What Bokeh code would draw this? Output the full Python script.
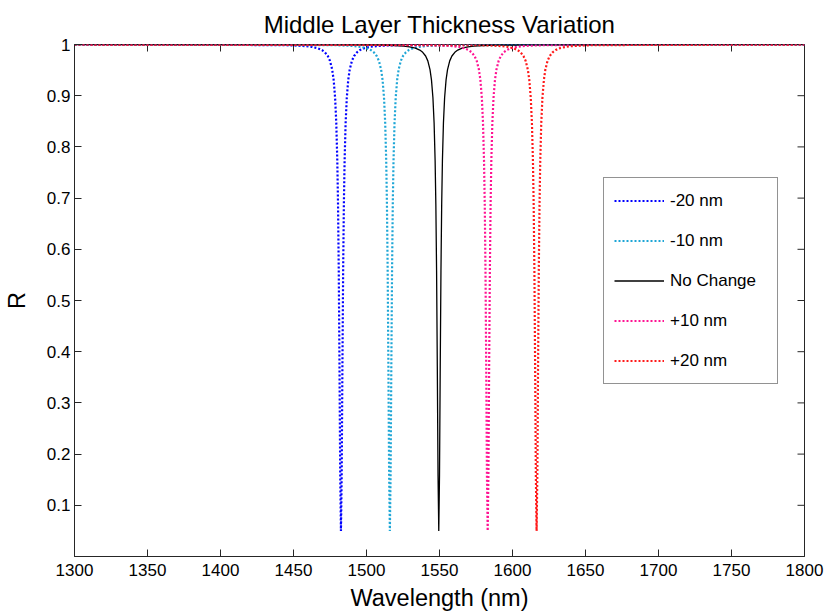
import math
from bokeh.plotting import figure
from bokeh.models import FixedTicker, Range1d, Legend, LegendItem
from bokeh.embed import file_html
from bokeh.resources import INLINE

# ---- data ----
R_profile = [1.0, 0.9988, 0.9979, 0.9968, 0.9954, 0.9928, 0.9891, 0.9848, 0.9775, 0.968,
             0.951, 0.931, 0.896, 0.847, 0.773, 0.688, 0.558, 0.371, 0.158, 0.05,
             0.158, 0.371, 0.558, 0.688, 0.773, 0.847, 0.896, 0.931, 0.951, 0.968,
             0.9775, 0.9848, 0.9891, 0.9928, 0.9954, 0.9968, 0.9979, 0.9988, 1.0]

wl_m20 = [1300, 1442.5, 1452.5, 1458.5, 1462.5, 1466.5, 1469.5, 1471.5, 1473.5, 1475.0,
          1476.5, 1477.5, 1478.5, 1479.3, 1480.0, 1480.5, 1481.0, 1481.5, 1482.0, 1482.5,
          1483.0, 1483.5, 1484.0, 1484.5, 1485.0, 1485.7, 1486.5, 1487.5, 1488.5, 1490.0,
          1491.5, 1493.5, 1495.5, 1498.5, 1502.5, 1506.5, 1512.5, 1522.5, 1800]
wl_m10 = [1300, 1476.0, 1486.0, 1492.0, 1496.0, 1500.0, 1503.0, 1505.0, 1507.0, 1508.5,
          1510.0, 1511.0, 1512.0, 1512.8, 1513.5, 1514.0, 1514.5, 1515.0, 1515.5, 1516.0,
          1516.5, 1517.0, 1517.5, 1518.0, 1518.5, 1519.2, 1520.0, 1521.0, 1522.0, 1523.5,
          1525.0, 1527.0, 1529.0, 1532.0, 1536.0, 1540.0, 1546.0, 1556.0, 1800]
wl_0 = [1300, 1509.5, 1519.5, 1525.5, 1529.5, 1533.5, 1536.5, 1538.5, 1540.5, 1542.0,
        1543.5, 1544.5, 1545.5, 1546.3, 1547.0, 1547.5, 1548.0, 1548.5, 1549.0, 1549.5,
        1550.0, 1550.5, 1551.0, 1551.5, 1552.0, 1552.7, 1553.5, 1554.5, 1555.5, 1557.0,
        1558.5, 1560.5, 1562.5, 1565.5, 1569.5, 1573.5, 1579.5, 1589.5, 1800]
wl_p10 = [1300, 1543.0, 1553.0, 1559.0, 1563.0, 1567.0, 1570.0, 1572.0, 1574.0, 1575.5,
          1577.0, 1578.0, 1579.0, 1579.8, 1580.5, 1581.0, 1581.5, 1582.0, 1582.5, 1583.0,
          1583.5, 1584.0, 1584.5, 1585.0, 1585.5, 1586.2, 1587.0, 1588.0, 1589.0, 1590.5,
          1592.0, 1594.0, 1596.0, 1599.0, 1603.0, 1607.0, 1613.0, 1623.0, 1800]
wl_p20 = [1300, 1576.5, 1586.5, 1592.5, 1596.5, 1600.5, 1603.5, 1605.5, 1607.5, 1609.0,
          1610.5, 1611.5, 1612.5, 1613.3, 1614.0, 1614.5, 1615.0, 1615.5, 1616.0, 1616.5,
          1617.0, 1617.5, 1618.0, 1618.5, 1619.0, 1619.7, 1620.5, 1621.5, 1622.5, 1624.0,
          1625.5, 1627.5, 1629.5, 1632.5, 1636.5, 1640.5, 1646.5, 1656.5, 1800]

series_labels = ["-20 nm", "-10 nm", "No Change", "+10 nm", "+20 nm"]
series_wl = [wl_m20, wl_m10, wl_0, wl_p10, wl_p20]
series_R = [R_profile, R_profile, R_profile, R_profile, R_profile]
series_colors = ["#0000FF", "#1EA6D6", "#000000", "#FF1493", "#FF1A1A"]

x_ticks = [1300, 1350, 1400, 1450, 1500, 1550, 1600, 1650, 1700, 1750, 1800]
y_ticks = [0.1, 0.2, 0.3, 0.4, 0.5, 0.6, 0.7, 0.8, 0.9, 1.0]
y_tick_labels = {0.1: "0.1", 0.2: "0.2", 0.3: "0.3", 0.4: "0.4", 0.5: "0.5",
                 0.6: "0.6", 0.7: "0.7", 0.8: "0.8", 0.9: "0.9", 1.0: "1"}

X_MIN, X_MAX = 1300, 1800
Y_MIN, Y_MAX = 0, 1

FONT = "Liberation Sans"
AX = "#262626"

p = figure(width=827, height=613, output_backend="svg", toolbar_location=None,
           x_range=Range1d(X_MIN, X_MAX), y_range=Range1d(Y_MIN, Y_MAX),
           x_axis_label="Wavelength (nm)", y_axis_label="R",
           title="Middle Layer Thickness Variation",
           min_border_left=74, min_border_right=23, min_border_top=44, min_border_bottom=57)
p.background_fill_color = "white"
p.border_fill_color = "white"
p.outline_line_color = AX
p.xgrid.visible = False
p.ygrid.visible = False

p.title.text_font = FONT
p.title.text_font_size = "24px"
p.title.text_font_style = "normal"
p.title.align = "center"
p.title.text_color = "black"
p.title.standoff = 14

for ax in [p.xaxis[0], p.yaxis[0]]:
    ax.axis_label_text_font = FONT
    ax.axis_label_text_font_size = "23.5px"
    ax.axis_label_text_font_style = "normal"
    ax.axis_label_text_color = "black"
    ax.major_label_text_font = FONT
    ax.major_label_text_font_size = "17px"
    ax.major_label_text_color = "black"
    ax.axis_line_color = AX
    ax.major_tick_line_color = AX
    ax.major_tick_in = 7
    ax.major_tick_out = 0
    ax.minor_tick_line_color = None

p.xaxis[0].ticker = FixedTicker(ticks=x_ticks)
p.yaxis[0].ticker = FixedTicker(ticks=y_ticks)
p.yaxis[0].major_label_overrides = y_tick_labels
p.xaxis[0].major_label_standoff = 7
p.xaxis[0].axis_label_standoff = 6
p.yaxis[0].major_label_standoff = 4
p.yaxis[0].axis_label_standoff = 14

# box ticks on the top and right edges (screen-sized marks clipped at the frame)
p.scatter(x_ticks, [Y_MAX] * len(x_ticks), marker="dash", size=14, angle=math.pi / 2,
          line_color=AX, line_width=1)
p.scatter([X_MAX] * len(y_ticks), y_ticks, marker="dash", size=14,
          line_color=AX, line_width=1)

items = []
for lab, wl, r, col in zip(series_labels, series_wl, series_R, series_colors):
    if lab == "No Change":
        rr = p.line(wl, r, line_color=col, line_width=1.3)
    else:
        rr = p.line(wl, r, line_color=col, line_width=2.2, line_dash="2 2")
    items.append(LegendItem(label=lab, renderers=[rr]))

legend = Legend(items=items, location=(529, 172),
                label_text_font=FONT, label_text_font_size="17px", label_text_color="black",
                glyph_width=50, glyph_height=25, label_height=25, spacing=15,
                padding=10, label_standoff=6, label_width=97, margin=0,
                border_line_color=AX, border_line_width=1,
                background_fill_color="white", background_fill_alpha=1)
p.add_layout(legend, "center")

open("out.html", "w").write(file_html(p, INLINE))
